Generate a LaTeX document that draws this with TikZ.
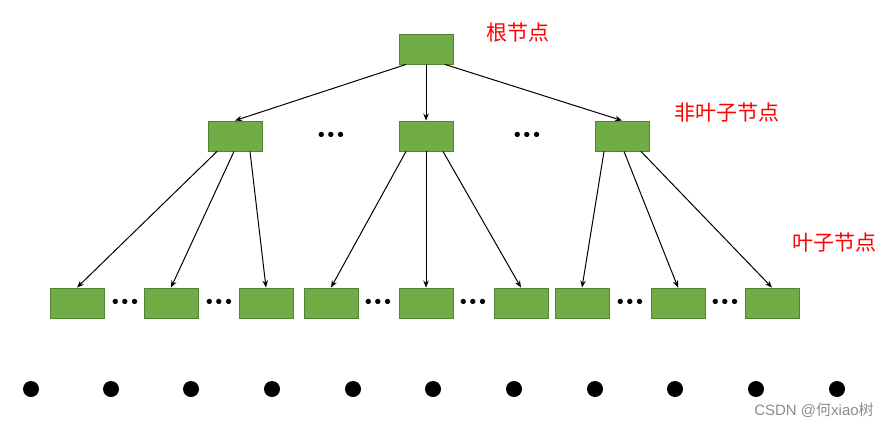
\documentclass[tikz,border=0pt]{standalone}
\usepackage{fontspec}
\setmainfont{Noto Sans CJK SC}
\newfontfamily\dejavu{DejaVu Sans}
\newfontfamily\wmfont{Liberation Sans}
\usetikzlibrary{arrows.meta}
\definecolor{boxgreen}{HTML}{70AD47}
\definecolor{boxedge}{HTML}{548235}
\definecolor{lblred}{HTML}{FF0000}
\tikzset{
  tbox/.style={draw=boxedge, fill=boxgreen, line width=0.9pt, minimum width=54pt, minimum height=30pt, inner sep=0pt},
  conn/.style={line width=1pt, -{Stealth[length=7pt,width=5.5pt]}},
  ellip/.style={font=\dejavu\bfseries\fontsize{15}{15}\selectfont, inner sep=0pt},
  lbl/.style={text=lblred, font=\fontsize{21}{21}\selectfont, inner sep=0pt},
  bigdot/.style={circle, fill=black, minimum size=16pt, inner sep=0pt},
}
\begin{document}
\begin{tikzpicture}[x=1pt,y=-1pt]
\useasboundingbox (0,0) rectangle (890,428);
% root
\node[tbox] (r) at (426,49) {};
% level 2
\node[tbox] (a) at (235,136) {};
\node[tbox] (b) at (426,136) {};
\node[tbox] (c) at (622,136) {};
\node[ellip] (d1) at (331,136) {•••};
\node[ellip] (d2) at (527,136) {•••};
% leaves
\node[tbox] (l1) at (77,303) {};
\node[tbox] (l2) at (171,303) {};
\node[tbox] (l3) at (266,303) {};
\node[tbox] (l4) at (331,303) {};
\node[tbox] (l5) at (426,303) {};
\node[tbox] (l6) at (521,303) {};
\node[tbox] (l7) at (582,303) {};
\node[tbox] (l8) at (678,303) {};
\node[tbox] (l9) at (772,303) {};
\node[ellip] (e1) at (125,303) {•••};
\node[ellip] (e2) at (219,303) {•••};
\node[ellip] (e3) at (378,303) {•••};
\node[ellip] (e4) at (473,303) {•••};
\node[ellip] (e5) at (630,303) {•••};
\node[ellip] (e6) at (725,303) {•••};
% connectors
\draw[conn] ([xshift=-20pt]r.south) -- (a.north);
\draw[conn] (r.south) -- (b.north);
\draw[conn] ([xshift=19pt]r.south) -- (c.north);
\draw[conn] ([xshift=-18pt]a.south) -- (l1.north);
\draw[conn] ([xshift=-1pt]a.south) -- (l2.north);
\draw[conn] ([xshift=15pt]a.south) -- (l3.north);
\draw[conn] ([xshift=-20pt]b.south) -- (l4.north);
\draw[conn] (b.south) -- (l5.north);
\draw[conn] ([xshift=17pt]b.south) -- (l6.north);
\draw[conn] ([xshift=-18pt]c.south) -- (l7.north);
\draw[conn] ([xshift=2pt]c.south) -- (l8.north);
\draw[conn] ([xshift=19pt]c.south) -- (l9.north);
% labels
\node[lbl] (t1) at (518,33) {根节点};
\node[lbl] (t2) at (727,113) {非叶子节点};
\node[lbl] (t3) at (834,243) {叶子节点};
% bottom dots
\foreach \i/\x in {1/31,2/111,3/191,4/272,5/353,6/433,7/514,8/595,9/675,10/756,11/837}
  \node[bigdot] (p\i) at (\x,389) {};
% watermark
\node[text=black!45, font=\fontsize{15}{15}\selectfont, inner sep=0pt] (wm) at (814,410) {{\wmfont CSDN @}何{\wmfont xiao}树};
\end{tikzpicture}
\end{document}
